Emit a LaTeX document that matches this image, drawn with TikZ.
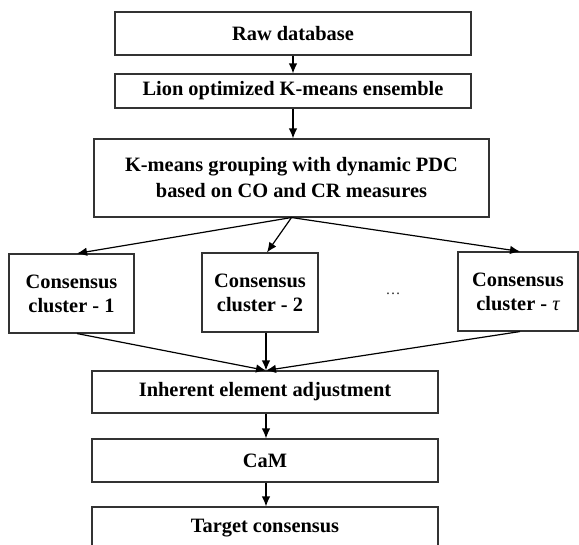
\documentclass[tikz,border=0pt]{standalone}
\usepackage{fontspec}
\setmainfont{Liberation Serif}
\usetikzlibrary{arrows.meta}
\begin{document}
\begin{tikzpicture}[x=1pt,y=-1pt,
  box/.style={draw=black!80, line width=1.1pt, rectangle, inner sep=0pt, align=center,
    font=\fontsize{20.4}{27}\selectfont\bfseries},
  cbox/.style={box, minimum width=#1, minimum height=79pt, font=\fontsize{20.4}{24}\selectfont\bfseries},
  arr/.style={-{Latex[length=10pt,width=8.5pt]}, line width=1.2pt},
]
\useasboundingbox (0,0) rectangle (579,545);
\clip (0,0) rectangle (579,545);
\node[box, minimum width=356pt, minimum height=43pt] (raw) at (293,33.5) {Raw database};
\node[box, minimum width=356pt, minimum height=34pt] (lion) at (293,91) {Lion optimized K-means ensemble};
\node[box, minimum width=395pt, minimum height=78pt] (km) at (291.5,178) {K-means grouping with dynamic PDC\\[-1pt]based on CO and CR measures};
\node[cbox=125pt] (c1) at (71.5,293.5) {Consensus\\cluster - 1};
\node[cbox=116pt] (c2) at (260,292.5) {Consensus\\cluster - 2};
\node[cbox=120pt] (ct) at (518,291.5) {Consensus\\cluster - {\mdseries\itshape τ}};
\node[font=\fontsize{15}{18}\selectfont, text=black!85] (dots) at (393,294) {…};
\node[box, minimum width=346pt, minimum height=42pt] (inh) at (265,392) {Inherent element adjustment};
\node[box, minimum width=346pt, minimum height=43pt] (cam) at (265,460.5) {CaM};
\node[box, minimum width=346pt, minimum height=43pt] (tgt) at (265,528.5) {Target consensus};

\draw[arr] (raw.south) -- (lion.north);
\draw[arr] (lion.south) -- (lion.south |- km.north);
\draw[arr] (km.south) -- ([xshift=5.5pt]c1.north);
\draw[arr] (km.south) -- ([xshift=7pt]c2.north);
\draw[arr] (km.south) -- ([xshift=2pt]ct.north);
\draw[arr] ([xshift=5.5pt]c1.south) -- ([xshift=1pt]inh.north);
\draw[arr] ([xshift=6pt]c2.south) -- ([xshift=1pt]inh.north);
\draw[arr] ([xshift=2pt]ct.south) -- ([xshift=1pt]inh.north);
\draw[arr] ([xshift=1pt]inh.south) -- ([xshift=1pt]cam.north);
\draw[arr] ([xshift=1pt]cam.south) -- ([xshift=1pt]tgt.north);
\end{tikzpicture}
\end{document}
